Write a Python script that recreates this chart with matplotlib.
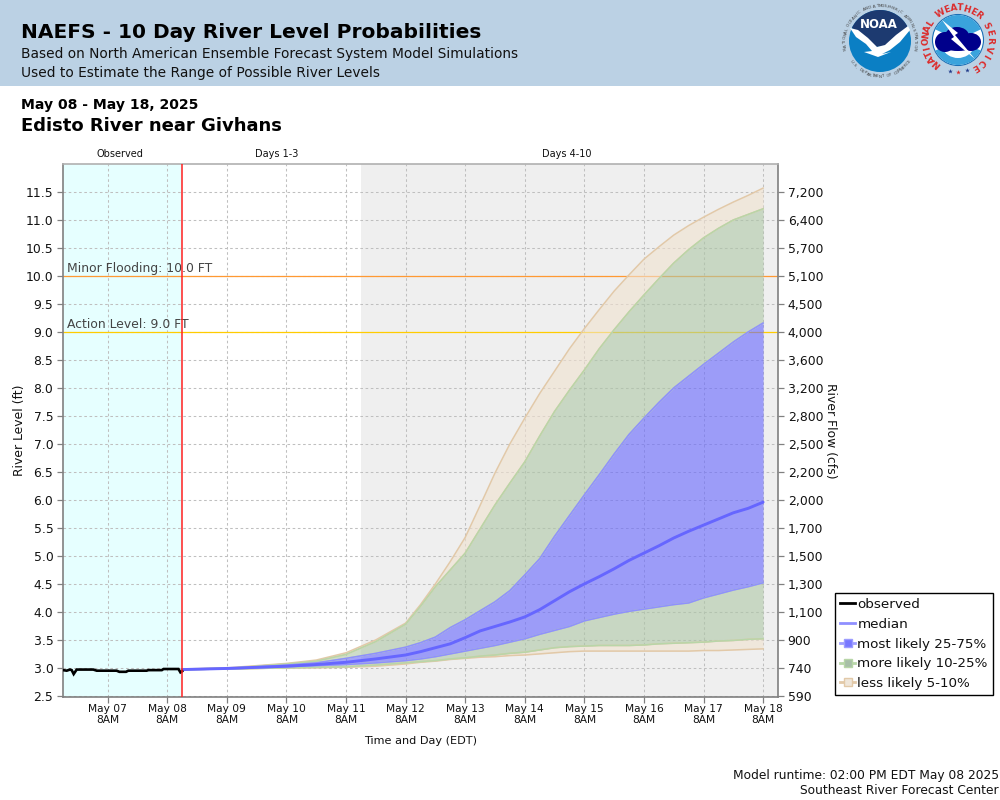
from datetime import datetime, timedelta
import numpy as np
import matplotlib
matplotlib.use("Agg")
import matplotlib.pyplot as plt
from matplotlib.lines import Line2D
from matplotlib.patches import Circle, Polygon, Rectangle, Wedge, Ellipse

# ---------- data ----------
run_time = datetime(2025, 5, 8, 14)
x_start = datetime(2025, 5, 6, 14)
x_end = datetime(2025, 5, 18, 14)
days3_end = datetime(2025, 5, 11, 14)

obs_hours = [0, 1.5, 2.8, 3.5, 4.3, 5.5, 12.2, 13.6, 21.6, 22.7, 25.4, 26.3, 33.7, 34.4, 39.8, 40.5, 46.5, 47.3, 48]
obs_level = [2.96, 2.95, 2.97, 2.96, 2.89, 2.97, 2.97, 2.95, 2.95, 2.93, 2.93, 2.95, 2.95, 2.96, 2.96, 2.98, 2.98, 2.92, 2.94]

fc_hours = [0, 18, 30, 42, 54, 66, 78, 90, 96, 102, 108, 114, 120, 126, 132, 138, 144, 150, 156, 162,
            168, 174, 180, 186, 192, 198, 204, 210, 216, 222, 228, 234]
p95 = [2.98, 3.00, 3.04, 3.08, 3.14, 3.27, 3.50, 3.80, 4.13, 4.50, 4.90, 5.33, 5.90, 6.48, 7.00, 7.46, 7.90, 8.30, 8.70, 9.06,
       9.40, 9.73, 10.02, 10.30, 10.52, 10.73, 10.90, 11.05, 11.19, 11.32, 11.44, 11.57]
p90 = [2.98, 2.99, 3.03, 3.07, 3.12, 3.24, 3.47, 3.78, 4.10, 4.45, 4.75, 5.05, 5.48, 5.91, 6.30, 6.68, 7.14, 7.58, 7.96, 8.32,
       8.70, 9.04, 9.36, 9.66, 9.95, 10.23, 10.47, 10.68, 10.85, 11.00, 11.10, 11.20]
p75 = [2.98, 2.99, 3.02, 3.05, 3.09, 3.17, 3.26, 3.37, 3.45, 3.55, 3.72, 3.86, 4.02, 4.18, 4.38, 4.66, 4.95, 5.35, 5.72, 6.09,
       6.45, 6.82, 7.17, 7.46, 7.74, 8.00, 8.21, 8.42, 8.62, 8.82, 9.00, 9.16]
p50 = [2.97, 2.99, 3.01, 3.03, 3.06, 3.10, 3.16, 3.23, 3.29, 3.36, 3.43, 3.54, 3.66, 3.74, 3.82, 3.91, 4.04, 4.20, 4.36, 4.50,
       4.63, 4.77, 4.92, 5.05, 5.18, 5.32, 5.44, 5.55, 5.66, 5.77, 5.85, 5.96]
p25 = [2.97, 2.98, 3.00, 3.02, 3.04, 3.06, 3.09, 3.13, 3.16, 3.20, 3.25, 3.30, 3.35, 3.40, 3.46, 3.52, 3.60, 3.67, 3.74, 3.84,
       3.90, 3.96, 4.01, 4.05, 4.09, 4.13, 4.16, 4.25, 4.32, 4.39, 4.45, 4.52]
p10 = [2.97, 2.98, 2.99, 3.00, 3.01, 3.02, 3.05, 3.09, 3.11, 3.13, 3.16, 3.18, 3.21, 3.23, 3.26, 3.28, 3.32, 3.36, 3.38, 3.39,
       3.40, 3.40, 3.40, 3.41, 3.43, 3.44, 3.45, 3.46, 3.48, 3.49, 3.51, 3.52]
p05 = [2.97, 2.98, 2.99, 3.00, 3.00, 3.01, 3.03, 3.07, 3.10, 3.12, 3.15, 3.17, 3.19, 3.20, 3.22, 3.23, 3.25, 3.27, 3.29, 3.30,
       3.30, 3.30, 3.30, 3.30, 3.30, 3.30, 3.30, 3.31, 3.31, 3.32, 3.33, 3.34]

level_ticks = [2.5, 3.0, 3.5, 4.0, 4.5, 5.0, 5.5, 6.0, 6.5, 7.0, 7.5, 8.0, 8.5, 9.0, 9.5, 10.0, 10.5, 11.0, 11.5]
flow_labels = ["590", "740", "900", "1,100", "1,300", "1,500", "1,700", "2,000", "2,200", "2,500",
               "2,800", "3,200", "3,600", "4,000", "4,500", "5,100", "5,700", "6,400", "7,200"]
minor_level = 10.0
action_level = 9.0

# ---------- styles ----------
BLUE, GREEN, TAN = "#6666ff", "#aec7a6", "#f0e2cf"
BLUE_E, GREEN_E, TAN_E = "#8f8fff", "#b8d6a8", "#e2c9a8"
TXT = "#111111"

plt.rcParams["font.family"] = "DejaVu Sans"
fig = plt.figure(figsize=(10, 8), dpi=100, facecolor="white")

# overlay in pixel coordinates for the banner and logos
bg = fig.add_axes([0, 0, 1, 1], zorder=0)
bg.set_xlim(0, 1000)
bg.set_ylim(800, 0)
bg.axis("off")
bg.add_patch(Rectangle((0, 0), 1000, 85.5, fc="#bbd1e4", ec="none"))


def ring_text(s, cx, cy, r, a0, a1, size, color, weight="normal", bottom=False):
    angs = np.linspace(a0, a1, len(s))
    for ch, a in zip(s, angs):
        t = np.deg2rad(a)
        x, y = cx + r * np.cos(t), cy - r * np.sin(t)
        rot = a + 90 if bottom else a - 90
        bg.text(x, y, ch, fontsize=size, color=color, weight=weight, rotation=rot,
                rotation_mode="anchor", ha="center", va="center")


# NOAA logo
cx, cy = 880, 41
bg.add_patch(Circle((cx, cy), 31, fc="#0b7fc4", ec="none"))
arc = np.deg2rad(np.linspace(205, 335, 40))
navy = [(cx + 31 * np.cos(a), cy + 31 * np.sin(a)) for a in arc] + [(896, 36), (885, 46), (875, 47), (864, 37)]
bg.add_patch(Polygon(navy, fc="#1d3a70", ec="none"))
bg.add_patch(Polygon([(850, 28), (858, 30), (868, 38), (877, 47), (885, 45), (896, 35), (908, 26),
                      (910, 30), (900, 42), (890, 50), (882, 54), (891, 52), (878, 57), (864, 52),
                      (872, 51), (866, 44), (856, 37)], fc="white", ec="none"))
bg.text(cx - 1, 25, "NOAA", color="white", fontsize=8.5, weight="bold", ha="center", va="center")
ring_text("NATIONAL OCEANIC AND ATMOSPHERIC ADMINISTRATION", cx, cy, 35, 192, -12, 3.0, "#444444")
ring_text("U.S. DEPARTMENT OF COMMERCE", cx, cy, 35.5, 215, 325, 3.0, "#444444", bottom=True)

# NWS logo
nx, ny = 958, 40
bg.add_patch(Circle((nx, ny), 25.5, fc="white", ec="#1a6fb5", lw=0.8))
bg.add_patch(Wedge((nx, ny), 25, 205, 335, fc="#3aa3dc", ec="none"))
bg.add_patch(Wedge((nx, ny), 25, 25, 155, fc="#3aa3dc", ec="none"))
bg.add_patch(Wedge((nx, ny), 18, 25, 155, fc="white", ec="none"))
for ex, ey, ew, eh in [(945, 42, 20, 20), (957, 36, 24, 18), (971, 42, 20, 18), (958, 46, 32, 10)]:
    bg.add_patch(Ellipse((ex, ey), ew, eh, fc="#00008b", ec="none"))
bg.add_patch(Polygon([(942, 20), (958, 33), (955, 35), (975, 59), (951, 39), (954, 37)], fc="white", ec="none"))
ring_text("NATIONAL", nx, ny, 32, 228, 148, 6.4, "#dc2b2b", "bold")
ring_text("WEATHER", nx, ny, 32, 122, 50, 6.4, "#dc2b2b", "bold")
ring_text("SERVICE", nx, ny, 32, 27, -58, 6.4, "#dc2b2b", "bold")
for sx, sy, sc in [(950, 71, "#1f3a8a"), (958, 72, "#dc2b2b"), (967, 70, "#1f3a8a")]:
    bg.plot([sx], [sy], marker="*", ms=3.5, color=sc, mec="none")

# banner and heading text
bg.text(21, 33, "NAEFS - 10 Day River Level Probabilities", fontsize=14.5, weight="bold", color="black", va="center")
bg.text(21, 54, "Based on North American Ensemble Forecast System Model Simulations", fontsize=9.9, color=TXT, va="center")
bg.text(21, 73, "Used to Estimate the Range of Possible River Levels", fontsize=9.9, color=TXT, va="center")
bg.text(21, 105, "May 08 - May 18, 2025", fontsize=10.05, weight="bold", color="black", va="center")
bg.text(21, 126, "Edisto River near Givhans", fontsize=12.95, weight="bold", color="black", va="center")
bg.text(120, 154, "Observed", fontsize=7, color=TXT, ha="center", va="center")
bg.text(276.5, 154, "Days 1-3", fontsize=7, color=TXT, ha="center", va="center")
bg.text(566.5, 154, "Days 4-10", fontsize=7, color=TXT, ha="center", va="center")
bg.text(999, 775, "Model runtime: 02:00 PM EDT May 08 2025", fontsize=8.87, color=TXT, ha="right", va="center")
bg.text(999, 791, "Southeast River Forecast Center", fontsize=8.87, color=TXT, ha="right", va="center")

# main chart
L, R, T, B = 63, 778, 164, 697
ax = fig.add_axes([L / 1000, 1 - B / 800, (R - L) / 1000, (B - T) / 800], zorder=2)
ax.set_facecolor("white")
ax.set_xlim(x_start, x_end)
ax.set_ylim(2.48, 12.0)

ax.axvspan(x_start, run_time, fc="#e6ffff", ec="none", zorder=0)
ax.axvspan(days3_end, x_end, fc="#efefef", ec="none", zorder=0)

day_ticks = [datetime(2025, 5, 7, 8) + timedelta(days=i) for i in range(12)]
ax.set_xticks(day_ticks)
ax.set_xticklabels([d.strftime("%b %d") + "\n8AM" for d in day_ticks], fontsize=7.7, color=TXT, linespacing=1.15)
ax.set_yticks(level_ticks)
ax.set_yticklabels([f"{v:.1f}" for v in level_ticks], fontsize=8.9, color=TXT)
ax.grid(True, color="#bfbfbf", lw=0.75, ls=(0, (2.5, 2.5)), zorder=1)
ax.set_axisbelow(True)
ax.tick_params(axis="y", length=4, width=0.9, color="#808080", pad=3)
ax.tick_params(axis="x", length=4, width=0.9, color="#808080", pad=1)
for side, col in [("left", "#808080"), ("bottom", "#808080"), ("top", "#b0b0b0"), ("right", "#808080")]:
    ax.spines[side].set_color(col)
    ax.spines[side].set_linewidth(1.2)

ax.axhline(minor_level, color="#ff9933", lw=0.9, zorder=2)
ax.axhline(action_level, color="#ffcc00", lw=0.9, zorder=2)
ax.text(x_start + timedelta(hours=1.6), minor_level + 0.02, "Minor Flooding: 10.0 FT", fontsize=8.9, color="#444444", va="bottom")
ax.text(x_start + timedelta(hours=1.6), action_level + 0.02, "Action Level: 9.0 FT", fontsize=8.9, color="#444444", va="bottom")
ax.axvline(run_time, color="#ff2020", lw=1.1, zorder=6)

fc_t = [run_time + timedelta(hours=h) for h in fc_hours]
obs_t = [x_start + timedelta(hours=h) for h in obs_hours]
bands = [(p90, p95, TAN, TAN_E), (p05, p10, TAN, TAN_E), (p75, p90, GREEN, GREEN_E), (p10, p25, GREEN, GREEN_E), (p25, p75, BLUE, BLUE_E)]
for lo, hi, fcol, ecol in bands:
    ax.fill_between(fc_t, lo, hi, color=fcol, alpha=0.6, lw=0, zorder=3)
    ax.plot(fc_t, lo, color=ecol, lw=1.1, zorder=4)
    ax.plot(fc_t, hi, color=ecol, lw=1.1, zorder=4)
ax.plot(fc_t, p50, color="#6666ff", lw=2.1, zorder=5, solid_capstyle="round")
ax.plot(obs_t, obs_level, color="black", lw=1.9, zorder=5, solid_joinstyle="miter")

ax.set_ylabel("River Level (ft)", fontsize=8.9, color=TXT)
ax.yaxis.set_label_coords(-37 / 715, 0.5)
ax.set_xlabel("Time and Day (EDT)", fontsize=8.1, color=TXT)
ax.xaxis.set_label_coords(0.5, -39 / 533)

ax2 = ax.twinx()
ax2.set_zorder(3)
ax2.set_ylim(ax.get_ylim())
ax2.set_yticks(level_ticks)
ax2.set_yticklabels(flow_labels, fontsize=8.9, color=TXT)
ax2.tick_params(axis="y", length=4, width=0.9, color="#808080", pad=3)
for s in ax2.spines.values():
    s.set_visible(False)
ax2.set_ylabel("River Flow (cfs)", fontsize=8.9, color=TXT, rotation=270)
ax2.yaxis.set_label_coords(1 + 59 / 715, 0.5)

handles = [
    Line2D([], [], color="black", lw=2),
    Line2D([], [], color="#8f8fff", lw=2),
    Line2D([], [], color="#9d9dff", lw=2, marker="s", ms=6, mfc="#7777ff", mec="#9d9dff"),
    Line2D([], [], color="#b8d6a8", lw=2, marker="s", ms=6, mfc="#a8bfa8", mec="#b8d6a8"),
    Line2D([], [], color="#e2c9a8", lw=2, marker="s", ms=6, mfc="#efe6da", mec="#e2c9a8"),
]
labels = ["observed", "median", "most likely 25-75%", "more likely 10-25%", "less likely 5-10%"]
leg = fig.legend(handles, labels, loc="lower left", bbox_to_anchor=(835 / 1000, 1 - 695 / 800), fontsize=9.7,
                 frameon=True, fancybox=False, edgecolor="black", framealpha=1, handlelength=1.15,
                 handletextpad=0.15, labelspacing=0.5, borderpad=0.36, borderaxespad=0, labelcolor=TXT)
leg.get_frame().set_linewidth(1.0)

fig.savefig("out.png", dpi=100)
